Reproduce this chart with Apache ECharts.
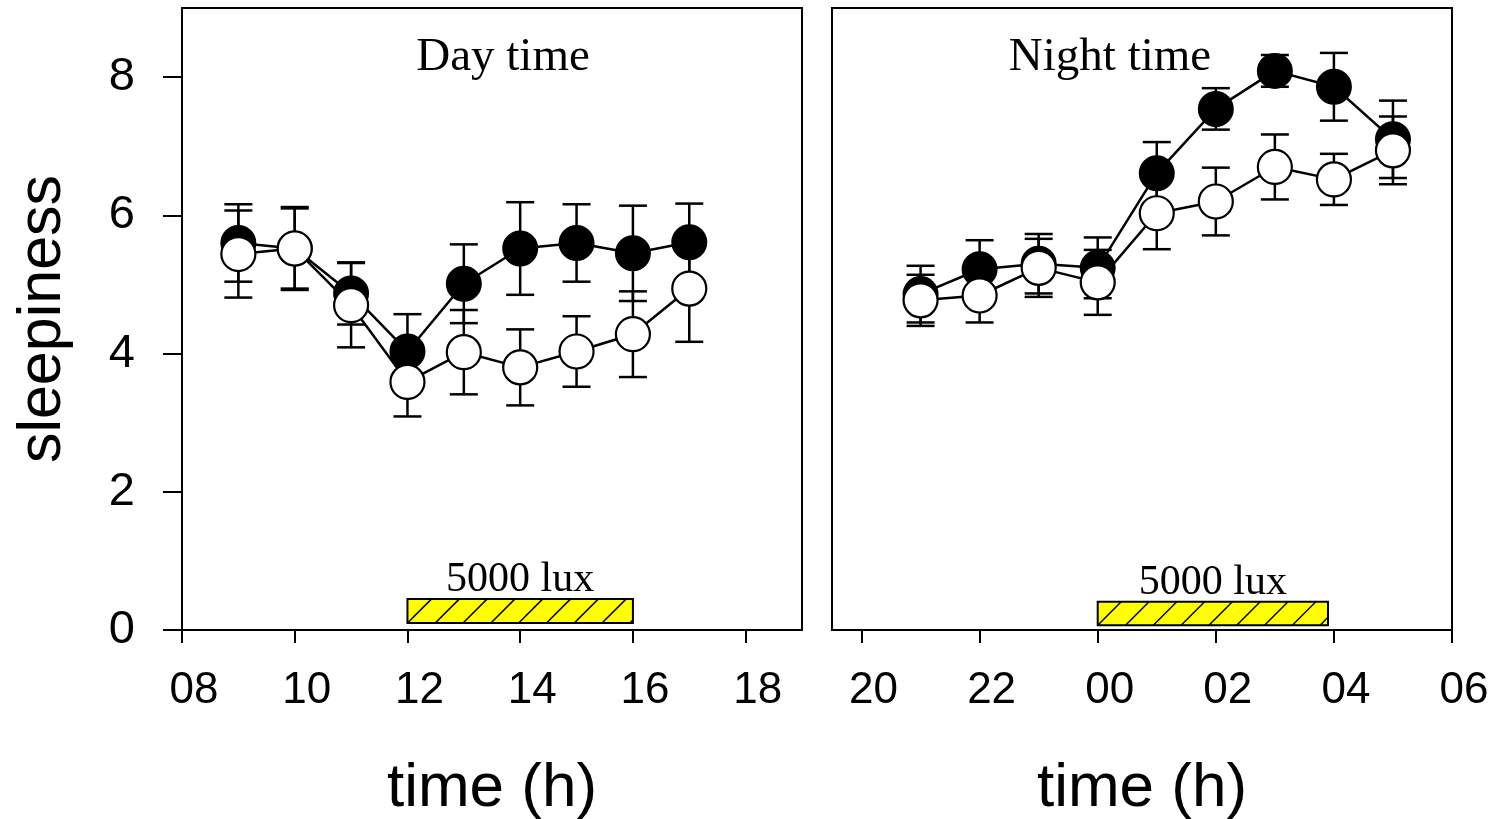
<!DOCTYPE html>
<html>
<head>
<meta charset="utf-8">
<script src="https://cdn.jsdelivr.net/npm/echarts@6/dist/echarts.min.js"></script>
<style>html,body{margin:0;padding:0;background:#fff;}#c{width:1499px;height:819px;}</style>
</head>
<body>
<div id="c"></div>
<script>
// ---- data ----
const dayHours = [9, 10, 11, 12, 13, 14, 15, 16, 17];
const dayFilled = [5.60, 5.52, 4.87, 4.03, 5.01, 5.52, 5.60, 5.45, 5.61];
const dayFilledErr = [0.56, 0.58, 0.45, 0.54, 0.57, 0.67, 0.56, 0.69, 0.56];
const dayOpen = [5.44, 5.52, 4.70, 3.59, 4.02, 3.80, 4.03, 4.28, 4.94];
const dayOpenErr = [0.63, 0.60, 0.61, 0.50, 0.61, 0.55, 0.51, 0.62, 0.77];

const nightHours = [21, 22, 23, 24, 25, 26, 27, 28, 29];
const nightFilled = [4.86, 5.22, 5.30, 5.24, 6.61, 7.54, 8.09, 7.86, 7.10];
const nightFilledErr = [0.41, 0.42, 0.43, 0.44, 0.45, 0.30, 0.23, 0.49, 0.56];
const nightOpen = [4.77, 4.84, 5.24, 5.03, 6.03, 6.20, 6.70, 6.52, 6.94];
const nightOpenErr = [0.37, 0.39, 0.42, 0.47, 0.52, 0.49, 0.47, 0.37, 0.49];

// light exposure periods: [start hour, end hour, bottom, top]
const dayLight = [12, 16, 0.10, 0.45];
const nightLight = [24, 27.9, 0.07, 0.41];
const lightLabel = '5000 lux';

const dayTicks = [8, 10, 12, 14, 16, 18];
const nightTicks = [20, 22, 24, 26, 28, 30];
const yTicks = [0, 2, 4, 6, 8];
const panelTitles = ['Day time', 'Night time'];
const xName = 'time (h)';
const yName = 'sleepiness';

// ---- helpers ----
const pad2 = v => { const h = ((Math.round(v) % 24) + 24) % 24; return (h < 10 ? '0' : '') + h; };
const pairs = (xs, ys) => xs.map((x, i) => [x, ys[i]]);
const errData = (xs, ys, es) => xs.map((x, i) => [x, ys[i] - es[i], ys[i] + es[i]]);

const LW = 2.5;
function renderErr(params, api) {
  const x = api.value(0), lo = api.value(1), hi = api.value(2);
  const a = api.coord([x, hi]), b = api.coord([x, lo]);
  const hw = 14;
  const st = { stroke: '#000', lineWidth: LW };
  return {
    type: 'group',
    children: [
      { type: 'line', shape: { x1: a[0], y1: a[1], x2: b[0], y2: b[1] }, style: st },
      { type: 'line', shape: { x1: a[0] - hw, y1: a[1], x2: a[0] + hw, y2: a[1] }, style: st },
      { type: 'line', shape: { x1: b[0] - hw, y1: b[1], x2: b[0] + hw, y2: b[1] }, style: st }
    ]
  };
}

function renderLight(params, api) {
  const p0 = api.coord([api.value(0), api.value(3)]);
  const p1 = api.coord([api.value(1), api.value(2)]);
  const x0 = p0[0], y0 = p0[1], x1 = p1[0], y1 = p1[1];
  const h = y1 - y0;
  const children = [
    { type: 'rect', shape: { x: x0, y: y0, width: x1 - x0, height: h },
      style: { fill: '#ffff00', stroke: '#000', lineWidth: 2 } }
  ];
  const step = 27.8;
  for (let s = x0; s < x1; s += step) {
    let xa = s, ya = y1, xb = s + h, yb = y0;
    if (xb > x1) { const t = (x1 - xa) / (xb - xa); xb = x1; yb = ya + (yb - ya) * t; }
    children.push({ type: 'line', shape: { x1: xa, y1: ya, x2: xb, y2: yb },
      style: { stroke: '#000', lineWidth: 1.5 } });
  }
  children.push({
    type: 'text',
    style: { text: lightLabel, x: (x0 + x1) / 2, y: y0 + 2, align: 'center', verticalAlign: 'bottom',
      font: '42px "Liberation Serif", "Times New Roman", serif', fill: '#000' }
  });
  return { type: 'group', children };
}

const lineStyle = { color: '#000', width: LW };
function seriesFor(idx, xs, filled, filledErr, open, openErr, light) {
  return [
    { type: 'custom', xAxisIndex: idx, yAxisIndex: idx, renderItem: renderLight, data: [light], z: 0, silent: true },
    { type: 'custom', xAxisIndex: idx, yAxisIndex: idx, renderItem: renderErr, data: errData(xs, filled, filledErr), z: 1, silent: true },
    { type: 'line', xAxisIndex: idx, yAxisIndex: idx, data: pairs(xs, filled), symbol: 'circle', symbolSize: 34,
      showAllSymbol: true, lineStyle, itemStyle: { color: '#000', borderColor: '#000', borderWidth: 2 }, z: 2, silent: true },
    { type: 'custom', xAxisIndex: idx, yAxisIndex: idx, renderItem: renderErr, data: errData(xs, open, openErr), z: 3, silent: true },
    { type: 'line', xAxisIndex: idx, yAxisIndex: idx, data: pairs(xs, open), symbol: 'circle', symbolSize: 34,
      showAllSymbol: true, lineStyle, itemStyle: { color: '#fff', borderColor: '#000', borderWidth: 2.2 }, z: 4, silent: true }
  ];
}

const sans = '"Liberation Sans", Arial, sans-serif';
function xAxisFor(idx, min, max, ticks) {
  return {
    type: 'value', gridIndex: idx, min, max, position: 'bottom',
    name: xName, nameLocation: 'middle', nameGap: 128,
    nameTextStyle: { fontFamily: sans, fontSize: 62, color: '#000' },
    axisLine: { show: true, onZero: false, lineStyle: { color: '#000', width: 2 } },
    axisTick: { show: true, customValues: ticks, length: 13, inside: false, lineStyle: { color: '#000', width: 2 } },
    axisLabel: { show: true, customValues: ticks, formatter: v => pad2(v), margin: 39, fontFamily: sans, fontSize: 44,
      color: '#000', padding: [0, 0, 0, 24] },
    splitLine: { show: false }
  };
}
function yAxisFor(idx, showLabels) {
  return {
    type: 'value', gridIndex: idx, min: 0, max: 9,
    name: showLabels ? yName : '', nameLocation: 'middle', nameGap: 108,
    nameTextStyle: { fontFamily: sans, fontSize: 61, color: '#000' },
    axisLine: { show: true, lineStyle: { color: '#000', width: 2 } },
    axisTick: { show: showLabels, customValues: yTicks, length: 19, lineStyle: { color: '#000', width: 2 } },
    axisLabel: { show: showLabels, customValues: yTicks, margin: 47, fontFamily: sans, fontSize: 47, color: '#000' },
    splitLine: { show: false }
  };
}

const chart = echarts.init(document.getElementById('c'), null, { renderer: 'canvas' });
chart.setOption({
  animation: false,
  backgroundColor: '#fff',
  grid: [
    { left: 182, right: 697, top: 8, bottom: 189, show: true, borderColor: '#000', borderWidth: 2,
      backgroundColor: 'transparent', containLabel: false, outerBoundsMode: 'none' },
    { left: 832, right: 47, top: 8, bottom: 189, show: true, borderColor: '#000', borderWidth: 2,
      backgroundColor: 'transparent', containLabel: false, outerBoundsMode: 'none' }
  ],
  xAxis: [xAxisFor(0, 8, 19, dayTicks), xAxisFor(1, 19.5, 30, nightTicks)],
  yAxis: [yAxisFor(0, true), yAxisFor(1, false)],
  graphic: [
    { type: 'text', x: 503, y: 58, style: { text: panelTitles[0], align: 'center', verticalAlign: 'middle',
      font: '47px "Liberation Serif", "Times New Roman", serif', fill: '#000' } },
    { type: 'text', x: 1110, y: 58, style: { text: panelTitles[1], align: 'center', verticalAlign: 'middle',
      font: '47px "Liberation Serif", "Times New Roman", serif', fill: '#000' } }
  ],
  series: [
    ...seriesFor(0, dayHours, dayFilled, dayFilledErr, dayOpen, dayOpenErr, dayLight),
    ...seriesFor(1, nightHours, nightFilled, nightFilledErr, nightOpen, nightOpenErr, nightLight)
  ]
});
</script>
</body>
</html>
